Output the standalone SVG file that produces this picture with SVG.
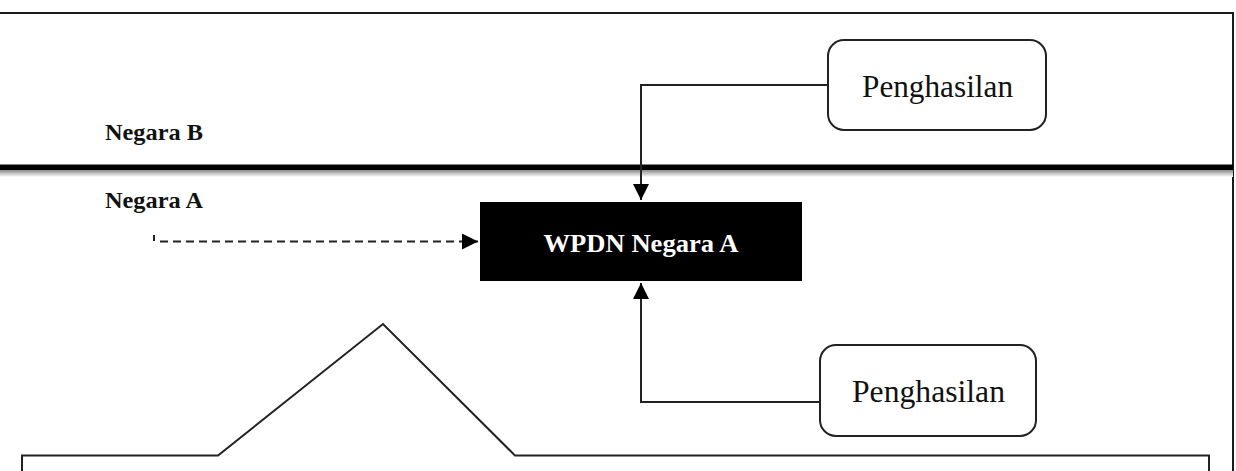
<svg xmlns="http://www.w3.org/2000/svg" width="1236" height="471" viewBox="0 0 1236 471">
  <defs>
    <marker id="arr" viewBox="0 0 16 16" refX="16" refY="8" markerWidth="16" markerHeight="16" markerUnits="userSpaceOnUse" orient="auto">
      <path d="M0,0 L16,8 L0,16 Z" fill="#000"/>
    </marker>
    <linearGradient id="shadow" x1="0" y1="0" x2="0" y2="1">
      <stop offset="0" stop-color="#888"/>
      <stop offset="1" stop-color="#fff"/>
    </linearGradient>
    <style>
      .frame { fill: none; stroke: #1a1a1a; stroke-width: 2; }
      .box { fill: #fff; stroke: #222; stroke-width: 2; }
      .conn { fill: none; stroke: #222; stroke-width: 2; }
      .label { font-family: "Liberation Serif", "DejaVu Serif", serif; font-weight: bold; font-size: 23px; fill: #111; }
      .boxtext { font-family: "Liberation Serif", "DejaVu Serif", serif; font-size: 32px; fill: #111; text-anchor: middle; }
      .wtext { font-family: "Liberation Serif", "DejaVu Serif", serif; font-weight: bold; font-size: 26px; fill: #fff; text-anchor: middle; }
    </style>
  </defs>
  <rect width="1236" height="471" fill="#fff"/>

  <g id="frame">
    <line x1="0" y1="13" x2="1234" y2="13" class="frame"/>
    <line x1="1233" y1="12" x2="1233" y2="471" class="frame"/>
    <rect x="0" y="170" width="1233" height="7" fill="url(#shadow)"/>
    <rect x="0" y="164.5" width="1233" height="5.5" fill="#000"/>
  </g>

  <g id="label-negara-b">
    <text x="105" y="140" class="label" textLength="98" lengthAdjust="spacingAndGlyphs">Negara B</text>
  </g>
  <g id="label-negara-a">
    <text x="105" y="208" class="label" textLength="98" lengthAdjust="spacingAndGlyphs">Negara A</text>
  </g>

  <g id="node-penghasilan-b">
    <rect x="828" y="40" width="218" height="90" rx="16" class="box"/>
    <text x="937.5" y="97" class="boxtext" textLength="151" lengthAdjust="spacingAndGlyphs">Penghasilan</text>
  </g>

  <g id="node-wpdn">
    <rect x="480" y="202" width="322" height="79" fill="#000"/>
    <text x="641" y="252" class="wtext" textLength="195" lengthAdjust="spacingAndGlyphs">WPDN Negara A</text>
  </g>

  <g id="node-penghasilan-a">
    <rect x="820" y="345" width="216" height="91" rx="16" class="box"/>
    <text x="928.5" y="402" class="boxtext" textLength="153" lengthAdjust="spacingAndGlyphs">Penghasilan</text>
  </g>

  <g id="callout">
    <path d="M22,471 V455.5 H218 L383,324 L515,455.5 H1209 V471" class="conn"/>
  </g>

  <g id="connectors">
    <path d="M828,85 H641 V200" class="conn" marker-end="url(#arr)"/>
    <path d="M820,402 H641 V283" class="conn" marker-end="url(#arr)"/>
    <line x1="154" y1="235" x2="154" y2="241" stroke="#222" stroke-width="2"/>
    <line x1="160" y1="241.5" x2="478" y2="241.5" stroke="#222" stroke-width="2" stroke-dasharray="8,5" marker-end="url(#arr)"/>
  </g>
</svg>
